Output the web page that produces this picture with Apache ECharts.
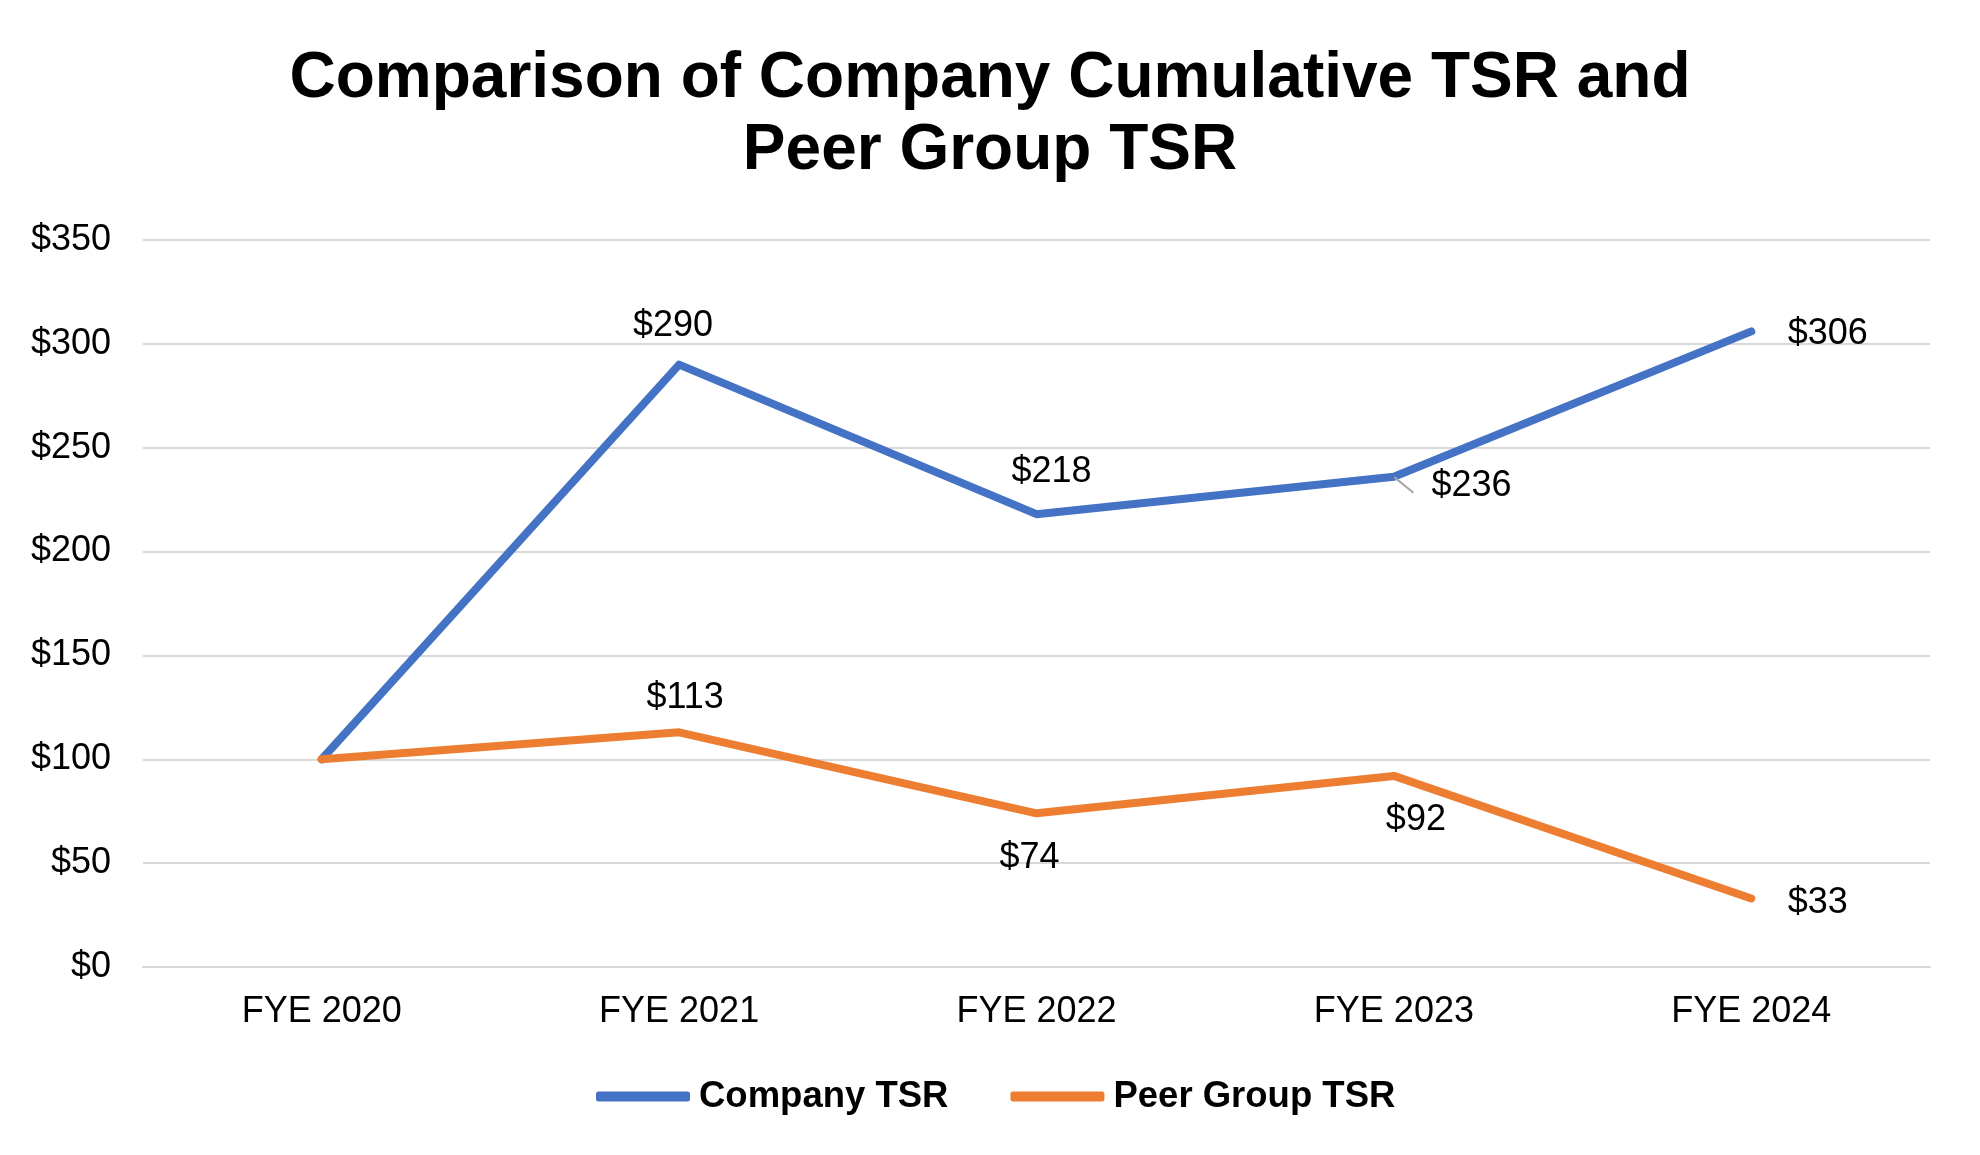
<!DOCTYPE html>
<html><head><meta charset="utf-8">
<script src="https://cdn.jsdelivr.net/npm/echarts@6/dist/echarts.min.js"></script>
<style>html,body{margin:0;padding:0;background:#fff}#c{width:1980px;height:1155px}</style>
</head><body><div id="c"></div>
<script>
const categories = ['FYE 2020','FYE 2021','FYE 2022','FYE 2023','FYE 2024'];
const companyTSR = [100, 290, 218, 236, 306];
const peerTSR = [100, 113, 74, 92, 33];
const yTicks = [0, 50, 100, 150, 200, 250, 300, 350];

const companyLabels = [
  null,
  {position:'top', distance:20, offset:[-6,0]},
  {position:'top', distance:24, offset:[15,0]},
  {position:'right', distance:19, offset:[0,9], leader:true},
  {position:'right', distance:36, offset:[0,3]}
];
const peerLabels = [
  null,
  {position:'top', distance:16, offset:[6,0]},
  {position:'bottom', distance:26, offset:[-7,0]},
  {position:'bottom', distance:26, offset:[22,0]},
  {position:'right', distance:36, offset:[0,5]}
];
function mk(vals, labs){
  return vals.map((v,i)=>{
    const l = labs[i];
    if(!l) return {value:v, label:{show:false}};
    const item = {value:v, label:{show:true, position:l.position, distance:l.distance, offset:l.offset}};
    if(l.leader){
      item.label.padding = [0,0,0,18];
      item.label.lineHeight = 14;
      item.labelLine = {show:true, lineStyle:{color:'#a6a6a6', width:2}};
    }
    return item;
  });
}
const font = '"Liberation Sans", Arial, sans-serif';
const chart = echarts.init(document.getElementById('c'));
chart.setOption({
  animation:false,
  title:{text:'Comparison of Company Cumulative TSR and\nPeer Group TSR', left:'center', top:38,
    textStyle:{fontFamily:font, fontSize:64, fontWeight:'bold', color:'#000', lineHeight:72}},
  legend:{bottom:35, left:591, itemWidth:94, itemHeight:10, itemGap:62, icon:'roundRect',
    textStyle:{fontFamily:font, fontSize:36.5, fontWeight:'bold', color:'#000', padding:[0,0,0,4]},
    data:['Company TSR','Peer Group TSR']},
  grid:{left:143, right:50, top:240, bottom:188},
  xAxis:{type:'category', data:categories, boundaryGap:true,
    axisLine:{lineStyle:{color:'#d9d9d9', width:2}}, axisTick:{show:false},
    axisLabel:{fontFamily:font, fontSize:36, color:'#000', margin:27}},
  yAxis:{type:'value', min:yTicks[0], max:yTicks[yTicks.length-1], interval:50,
    axisLine:{show:false}, axisTick:{show:false},
    splitLine:{lineStyle:{color:'#d9d9d9', width:2}},
    axisLabel:{fontFamily:font, fontSize:36, color:'#000', margin:32, formatter:v=>'$'+v}},
  series:[
    {name:'Company TSR', type:'line', data:mk(companyTSR, companyLabels),
      symbol:'circle', symbolSize:1, itemStyle:{color:'#4472C4'},
      lineStyle:{width:8, color:'#4472C4', cap:'round', join:'round'},
      label:{fontFamily:font, fontSize:36, color:'#000', formatter:p=>'$'+p.value},
      labelLine:{show:false}},
    {name:'Peer Group TSR', type:'line', data:mk(peerTSR, peerLabels),
      symbol:'circle', symbolSize:1, itemStyle:{color:'#ED7D31'},
      lineStyle:{width:8, color:'#ED7D31', cap:'round', join:'round'},
      label:{fontFamily:font, fontSize:36, color:'#000', formatter:p=>'$'+p.value},
      labelLine:{show:false}}
  ]
});
</script></body></html>
